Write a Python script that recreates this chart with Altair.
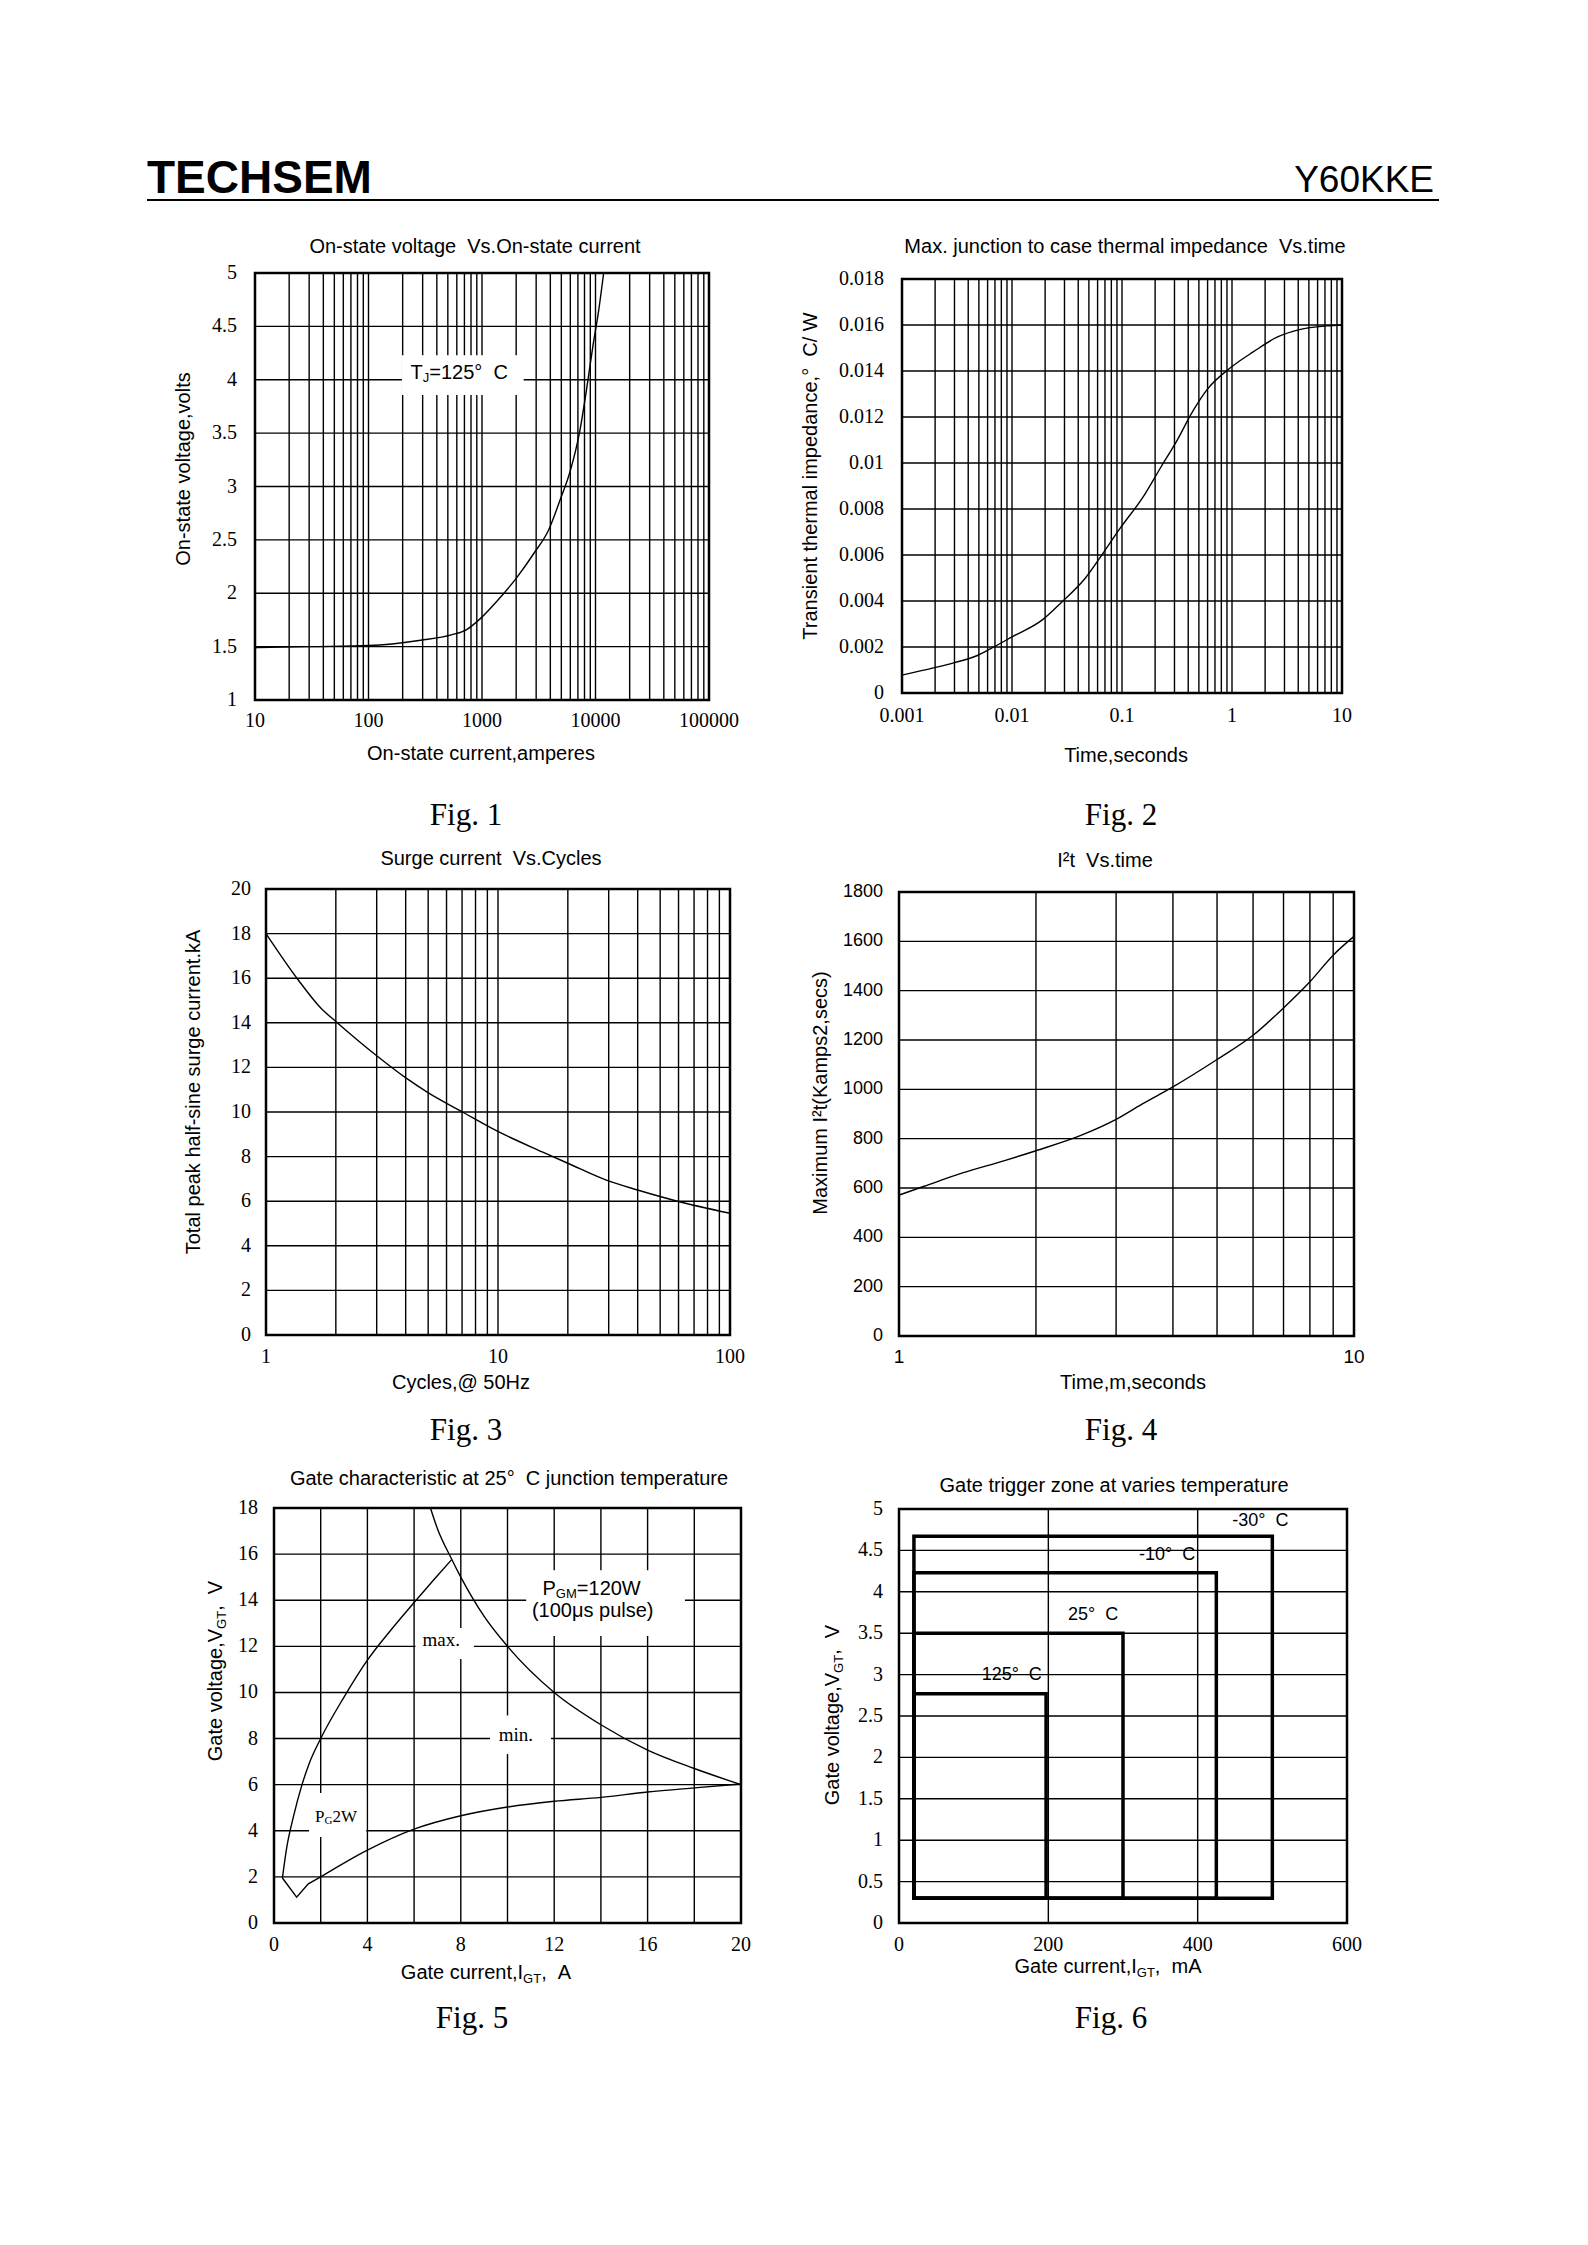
import altair as alt
import pandas as pd

# ---------------- values ----------------
# Fig.1 On-state voltage vs on-state current (Tj=125 C)
f1_current = [10, 30, 101, 288, 537, 733, 961, 1365, 2000, 2850, 3890, 4900, 5970, 7240, 8260, 9500, 10700, 11800]
f1_voltage = [1.49, 1.50, 1.51, 1.56, 1.61, 1.66, 1.76, 1.93, 2.14, 2.37, 2.60, 2.88, 3.14, 3.51, 3.88, 4.32, 4.66, 5.00]
f1_xticks = [10, 100, 1000, 10000, 100000]
f1_yticks = [1, 1.5, 2, 2.5, 3, 3.5, 4, 4.5, 5]

# Fig.2 Transient thermal impedance vs time
f2_time = [0.001, 0.00193, 0.003, 0.00485, 0.0067, 0.01, 0.019, 0.0284, 0.0459, 0.0686, 0.0984,
           0.153, 0.229, 0.315, 0.434, 0.598, 0.968, 1.57, 2.54, 4.1, 7.2, 10]
f2_zth = [0.00078, 0.00109, 0.00132, 0.00163, 0.00198, 0.00244, 0.00319, 0.00396, 0.00497, 0.00614, 0.00723,
          0.00847, 0.00987, 0.01096, 0.0122, 0.01321, 0.01414, 0.01484, 0.01546, 0.0158, 0.01596, 0.0160]
f2_xticks = [0.001, 0.01, 0.1, 1, 10]
f2_yticks = [0, 0.002, 0.004, 0.006, 0.008, 0.01, 0.012, 0.014, 0.016, 0.018]

# Fig.3 Surge current vs cycles
f3_cycles = [1, 1.375, 1.73, 2.01, 3.02, 3.98, 4.99, 7.03, 9.89, 15.6, 20.1, 29.7, 40.3, 58.8, 100]
f3_surge = [18.0, 15.93, 14.64, 14.04, 12.5, 11.55, 10.87, 10.0, 9.15, 8.2, 7.69, 6.92, 6.49, 6.01, 5.46]
f3_xticks = [1, 10, 100]
f3_yticks = [0, 2, 4, 6, 8, 10, 12, 14, 16, 18, 20]

# Fig.4 I2t vs time
f4_time = [1, 1.136, 1.379, 1.706, 2.0, 2.51, 3.0, 3.42, 4.0, 5.0, 6.0, 7.0, 8.0, 9.0, 10.0]
f4_i2t = [571, 607, 661, 711, 751, 813, 878, 940, 1010, 1121, 1219, 1330, 1436, 1544, 1620]
f4_xticks = [1, 10]
f4_yticks = [0, 200, 400, 600, 800, 1000, 1200, 1400, 1600, 1800]

# Fig.5 Gate characteristic
f5_pgm_i = [6.7, 7.0, 7.6, 8.0, 9.0, 10.0, 12.0, 14.0, 16.0, 18.0, 20.0]
f5_pgm_v = [18.0, 17.1, 15.8, 15.0, 13.3, 12.0, 10.0, 8.6, 7.5, 6.7, 6.0]
f5_max_i = [0.36, 0.55, 0.83, 1.2, 1.5, 2.0, 3.0, 4.0, 5.0, 6.0, 6.9, 7.6]
f5_max_v = [1.95, 3.3, 4.6, 6.0, 6.9, 8.0, 9.8, 11.4, 12.7, 13.9, 14.95, 15.75]
f5_knee_i = [0.36, 0.97, 1.47, 2.0]
f5_knee_v = [1.95, 1.12, 1.70, 2.0]
f5_min_i = [2.0, 4.0, 6.0, 8.0, 10.0, 12.0, 14.0, 16.0, 18.0, 20.0]
f5_min_v = [2.0, 3.16, 4.07, 4.65, 5.03, 5.28, 5.45, 5.68, 5.86, 6.03]
f5_xticks = [0, 4, 8, 12, 16, 20]
f5_yticks = [0, 2, 4, 6, 8, 10, 12, 14, 16, 18]

# Fig.6 Gate trigger zones
f6_temp = ["-30°\u00a0 C", "-10°\u00a0 C", "25°\u00a0 C", "125°\u00a0 C"]
f6_igt_hi = [500, 425, 300, 197]
f6_vgt_hi = [4.67, 4.23, 3.50, 2.77]
f6_igt_lo = [20, 20, 20, 20]
f6_vgt_lo = [0.3, 0.3, 0.3, 0.3]
f6_lab_i = [484, 359, 260, 151]
f6_lab_v = [4.85, 4.45, 3.72, 2.99]
f6_xticks = [0, 200, 400, 600]
f6_yticks = [0, 0.5, 1, 1.5, 2, 2.5, 3, 3.5, 4, 4.5, 5]

# grid line positions
f1_xgrid = [k * 10 ** d for d in range(1, 5) for k in range(1, 10)] + [100000]
f2_xgrid = [k * 10.0 ** d for d in range(-3, 1) for k in range(1, 10)] + [10]
f3_xgrid = [k * 10 ** d for d in range(0, 2) for k in range(1, 10)] + [100]
f4_xgrid = [1, 2, 3, 4, 5, 6, 7, 8, 9, 10]
f5_xgrid = [0, 2, 4, 6, 8, 10, 12, 14, 16, 18, 20]
f6_xgrid = [0, 200, 400, 600]

# ---------------- styling / layout ----------------
SANS = "Liberation Sans"
SERIF = "Liberation Serif"
GRID_W = 1.4
FRAME_W = 2.5
FIG_SIZE = 31

AW = {' ': 278, '\u00a0': 278, ',': 278, '.': 278, '-': 333, '(': 333, ')': 333, '/': 278,
      '=': 584, '°': 400, '@': 1015, '²': 333, 'μ': 576}
for ch in '0123456789':
    AW[ch] = 556
AW.update(dict(A=667, B=667, C=722, D=722, E=667, F=611, G=778, H=722, I=278, J=500, K=667, L=556, M=833,
               N=722, O=778, P=667, Q=778, R=722, S=667, T=611, U=722, V=667, W=944, X=667, Y=667, Z=611))
AW.update(dict(a=556, b=556, c=500, d=556, e=556, f=278, g=556, h=556, i=222, j=222, k=500, l=222, m=833,
               n=556, o=556, p=556, q=556, r=333, s=500, t=278, u=556, v=500, w=722, x=500, y=500, z=500))


def tw(s, size):
    return sum(AW.get(c, 556) for c in s) * size / 1000.0


# plot rectangles (page pixels: left, top, right, bottom)
PLOT = {1: (255, 273, 709, 700), 2: (902, 279, 1342, 693), 3: (266, 889, 730, 1335),
        4: (899, 892, 1354, 1336), 5: (274, 1508, 741, 1923), 6: (899, 1509, 1347, 1923)}
# uniform grid cells (the concat aligns every row/column to the same size)
X0, Y0 = 240, 230
CW = 640
RH = 620
CELL = {1: (X0, Y0), 2: (X0 + CW, Y0),
        3: (X0, Y0 + RH), 4: (X0 + CW, Y0 + RH),
        5: (X0, Y0 + 2 * RH), 6: (X0 + CW, Y0 + 2 * RH)}

_one = pd.DataFrame({'k': [0]})


def ptext(n, px, py, s, size=20, font=SANS, align='center', baseline='middle', angle=0, weight='normal'):
    cx, cy = CELL[n]
    kw = dict(text=s, fontSize=size, font=font, align=align, baseline=baseline, color='black', fontWeight=weight)
    if angle:
        kw['angle'] = angle
    return alt.Chart(_one).mark_text(**kw).encode(x=alt.value(px - cx), y=alt.value(py - cy))


def comp_h(n, pcx, pcy, pieces):
    total = sum(tw(t, s) for t, s, _ in pieces)
    x = pcx - total / 2
    base = pcy + 0.36 * pieces[0][1]
    out = []
    for t, s, sh in pieces:
        out.append(ptext(n, x, base + sh, t, size=s, align='left', baseline='alphabetic'))
        x += tw(t, s)
    return out


def comp_v(n, pcx, pcy, pieces):
    total = sum(tw(t, s) for t, s, _ in pieces)
    y = pcy + total / 2
    base = pcx + 0.36 * pieces[0][1]
    out = []
    for t, s, sh in pieces:
        out.append(ptext(n, base + sh, y, t, size=s, align='left', baseline='alphabetic', angle=270))
        y -= tw(t, s)
    return out


def scales(n, xtype, xdom, ydom):
    L, T, R, B = PLOT[n]
    cx, cy = CELL[n]
    xs = alt.Scale(type=xtype, domain=xdom, range=[L - cx, R - cx], nice=False)
    ys = alt.Scale(type='linear', domain=ydom, range=[B - cy, T - cy], nice=False)
    return xs, ys


def grid(xs, ys, xvals, yvals, xdom, ydom):
    dv = pd.DataFrame({'gx': xvals, 'lo': ydom[0], 'hi': ydom[1]})
    dh = pd.DataFrame({'gy': yvals, 'lo': xdom[0], 'hi': xdom[1]})
    v = alt.Chart(dv).mark_rule(color='black', strokeWidth=GRID_W).encode(
        x=alt.X('gx:Q', scale=xs, axis=None), y=alt.Y('lo:Q', scale=ys, axis=None), y2='hi')
    h = alt.Chart(dh).mark_rule(color='black', strokeWidth=GRID_W).encode(
        y=alt.Y('gy:Q', scale=ys, axis=None), x=alt.X('lo:Q', scale=xs, axis=None), x2='hi')
    return [v, h]


def ticklabels(xs, ys, xvals, yvals, xdom, ydom, xpad, ypad, font=SERIF, xsize=20, ysize=20):
    dx_ = pd.DataFrame({'tv': xvals, 'tb': ydom[0]})
    dy_ = pd.DataFrame({'tv': yvals, 'tb': xdom[0]})
    xl = alt.Chart(dx_).mark_text(font=font, fontSize=xsize, align='center', baseline='middle',
                                  dy=xpad, color='black').encode(
        x=alt.X('tv:Q', scale=xs, axis=None), y=alt.Y('tb:Q', scale=ys, axis=None),
        text=alt.Text('tv:Q', format='~g'))
    yl = alt.Chart(dy_).mark_text(font=font, fontSize=ysize, align='right', baseline='middle',
                                  dx=-ypad, color='black').encode(
        y=alt.Y('tv:Q', scale=ys, axis=None), x=alt.X('tb:Q', scale=xs, axis=None),
        text=alt.Text('tv:Q', format='~g'))
    return [xl, yl]


def frame(xs, ys, xdom, ydom):
    d = pd.DataFrame({'fx1': [xdom[0]], 'fx2': [xdom[1]], 'fy1': [ydom[0]], 'fy2': [ydom[1]]})
    return alt.Chart(d).mark_rect(fillOpacity=0, stroke='black', strokeWidth=FRAME_W).encode(
        x=alt.X('fx1:Q', scale=xs, axis=None), x2='fx2', y=alt.Y('fy1:Q', scale=ys, axis=None), y2='fy2')


def wbox(xs, ys, x1, x2, y1, y2):
    d = pd.DataFrame({'bx1': [x1], 'bx2': [x2], 'by1': [y1], 'by2': [y2]})
    return alt.Chart(d).mark_rect(color='white').encode(
        x=alt.X('bx1:Q', scale=xs, axis=None), x2='bx2', y=alt.Y('by1:Q', scale=ys, axis=None), y2='by2')


def ann(xs, ys, x, y, text, size=20, font=SANS, align='center', baseline='middle', dx=0, dy=0):
    d = pd.DataFrame({'ax': [x], 'ay': [y]})
    return alt.Chart(d).mark_text(text=text, fontSize=size, font=font, align=align, baseline=baseline,
                                  dx=dx, dy=dy, color='black').encode(
        x=alt.X('ax:Q', scale=xs, axis=None), y=alt.Y('ay:Q', scale=ys, axis=None))


def curve(xs, ys, xv, yv, interp='monotone', width=1.4):
    d = pd.DataFrame({'cx': xv, 'cy': yv})
    return alt.Chart(d).mark_line(color='black', strokeWidth=width, interpolate=interp).encode(
        x=alt.X('cx:Q', scale=xs, axis=None), y=alt.Y('cy:Q', scale=ys, axis=None))


def panel(layers):
    return alt.layer(*layers).properties(width=CW, height=RH)


# ---------------- Fig.1 ----------------
xd, yd = [10, 100000], [1, 5]
xs, ys = scales(1, 'log', xd, yd)
L1 = grid(xs, ys, f1_xgrid, f1_yticks, xd, yd)
L1.append(wbox(xs, ys, 197, 2330, 3.857, 4.23))
L1.append(curve(xs, ys, f1_current, f1_voltage))
L1.append(frame(xs, ys, xd, yd))
L1 += ticklabels(xs, ys, f1_xticks, f1_yticks, xd, yd, 21, 18)
L1 += [ann(xs, ys, 235, 4.06, 'T', align='left'),
       ann(xs, ys, 235, 4.06, 'J', size=13, align='left', dx=12.2, dy=5),
       ann(xs, ys, 235, 4.06, '=125°\u00a0 C', align='left', dx=18.7)]
L1 += [ptext(1, 475, 247, 'On-state voltage\u00a0 Vs.On-state current'),
       ptext(1, 481, 754, 'On-state current,amperes'),
       ptext(1, 184, 469, 'On-state voltage,volts', angle=270),
       ptext(1, 466, 816, 'Fig. 1', size=FIG_SIZE, font=SERIF)]
# page header
L1 += [ptext(1, 147, 193, 'TECHSEM', size=46, font=SANS, align='left', baseline='alphabetic', weight='bold'),
       ptext(1, 1434, 192, 'Y60KKE', size=37, font=SANS, align='right', baseline='alphabetic'),
       alt.Chart(_one).mark_rule(color='black', strokeWidth=2).encode(
           x=alt.value(147 - X0), x2=alt.value(1439 - X0), y=alt.value(200 - Y0)),
       alt.Chart(_one).mark_rect(color='white').encode(
           x=alt.value(8 - X0), x2=alt.value(9 - X0), y=alt.value(8 - Y0), y2=alt.value(9 - Y0))]
p1 = panel(L1)

# ---------------- Fig.2 ----------------
xd, yd = [0.001, 10], [0, 0.018]
xs, ys = scales(2, 'log', xd, yd)
L2 = grid(xs, ys, f2_xgrid, f2_yticks, xd, yd)
L2.append(curve(xs, ys, f2_time, f2_zth))
L2.append(frame(xs, ys, xd, yd))
L2 += ticklabels(xs, ys, f2_xticks, f2_yticks, xd, yd, 23, 18)
L2 += [ptext(2, 1125, 247, 'Max. junction to case thermal impedance\u00a0 Vs.time'),
       ptext(2, 1126, 756, 'Time,seconds'),
       ptext(2, 811, 476, 'Transient thermal impedance,°\u00a0 C/ W', angle=270),
       ptext(2, 1121, 816, 'Fig. 2', size=FIG_SIZE, font=SERIF)]
p2 = panel(L2)

# ---------------- Fig.3 ----------------
xd, yd = [1, 100], [0, 20]
xs, ys = scales(3, 'log', xd, yd)
L3 = grid(xs, ys, f3_xgrid, f3_yticks, xd, yd)
L3.append(curve(xs, ys, f3_cycles, f3_surge))
L3.append(frame(xs, ys, xd, yd))
L3 += ticklabels(xs, ys, f3_xticks, f3_yticks, xd, yd, 22, 15)
L3 += [ptext(3, 491, 859, 'Surge current\u00a0 Vs.Cycles'),
       ptext(3, 461, 1383, 'Cycles,@ 50Hz'),
       ptext(3, 194, 1092, 'Total peak half-sine surge current.kA', angle=270),
       ptext(3, 466, 1431, 'Fig. 3', size=FIG_SIZE, font=SERIF)]
p3 = panel(L3)

# ---------------- Fig.4 ----------------
xd, yd = [1, 10], [0, 1800]
xs, ys = scales(4, 'log', xd, yd)
L4 = grid(xs, ys, f4_xgrid, f4_yticks, xd, yd)
L4.append(curve(xs, ys, f4_time, f4_i2t))
L4.append(frame(xs, ys, xd, yd))
L4 += ticklabels(xs, ys, f4_xticks, f4_yticks, xd, yd, 21, 16, font=SANS, xsize=19, ysize=18)
L4 += [ptext(4, 1105, 861, 'I²t\u00a0 Vs.time'),
       ptext(4, 1133, 1383, 'Time,m,seconds'),
       ptext(4, 821, 1093, 'Maximum I²t(Kamps2,secs)', angle=270),
       ptext(4, 1121, 1431, 'Fig. 4', size=FIG_SIZE, font=SERIF)]
p4 = panel(L4)

# ---------------- Fig.5 ----------------
xd, yd = [0, 20], [0, 18]
xs, ys = scales(5, 'linear', xd, yd)
L5 = grid(xs, ys, f5_xgrid, f5_yticks, xd, yd)
L5 += [wbox(xs, ys, 10.8, 17.6, 12.45, 15.3), wbox(xs, ys, 6.06, 8.56, 11.45, 12.8),
       wbox(xs, ys, 9.25, 11.86, 7.33, 9.0), wbox(xs, ys, 1.5, 3.95, 3.73, 5.64)]
L5.append(curve(xs, ys, f5_pgm_i, f5_pgm_v))
L5.append(curve(xs, ys, f5_max_i, f5_max_v))
L5.append(curve(xs, ys, f5_knee_i, f5_knee_v, interp='linear'))
L5.append(curve(xs, ys, f5_min_i, f5_min_v))
L5.append(frame(xs, ys, xd, yd))
L5 += ticklabels(xs, ys, f5_xticks, f5_yticks, xd, yd, 22, 16)
L5 += [ann(xs, ys, 11.5, 14.5, 'P', align='left'),
       ann(xs, ys, 11.5, 14.5, 'GM', size=13, align='left', dx=13.3, dy=5),
       ann(xs, ys, 11.5, 14.5, '=120W', align='left', dx=34.3),
       ann(xs, ys, 13.65, 13.53, '(100μs pulse)'),
       ann(xs, ys, 7.16, 12.27, 'max.', size=19, font=SERIF),
       ann(xs, ys, 10.36, 8.16, 'min.', size=19, font=SERIF),
       ann(xs, ys, 1.76, 4.6, 'P', size=17, font=SERIF, align='left'),
       ann(xs, ys, 1.76, 4.6, 'G', size=11, font=SERIF, align='left', dx=9.5, dy=4),
       ann(xs, ys, 1.76, 4.6, '2W', size=17, font=SERIF, align='left', dx=17.4)]
L5 += [ptext(5, 509, 1479, 'Gate characteristic at 25°\u00a0 C junction temperature'),
       ptext(5, 472, 2019, 'Fig. 5', size=FIG_SIZE, font=SERIF)]
L5 += comp_h(5, 486, 1972, [('Gate current,I', 20, 0), ('GT', 13, 4), (',\u00a0\u00a0A', 20, 0)])
L5 += comp_v(5, 215, 1671, [('Gate voltage,V', 20, 0), ('GT', 13, 4), (',\u00a0\u00a0V', 20, 0)])
p5 = panel(L5)

# ---------------- Fig.6 ----------------
xd, yd = [0, 600], [0, 5]
xs, ys = scales(6, 'linear', xd, yd)
L6 = grid(xs, ys, f6_xgrid, f6_yticks, xd, yd)
d6 = pd.DataFrame({'i1': f6_igt_lo, 'i2': f6_igt_hi, 'v1': f6_vgt_lo, 'v2': f6_vgt_hi})
L6.append(alt.Chart(d6).mark_rect(fillOpacity=0, stroke='black', strokeWidth=3.5).encode(
    x=alt.X('i1:Q', scale=xs, axis=None), x2='i2',
    y=alt.Y('v1:Q', scale=ys, axis=None), y2='v2'))
L6.append(frame(xs, ys, xd, yd))
L6 += ticklabels(xs, ys, f6_xticks, f6_yticks, xd, yd, 22, 16)
d6l = pd.DataFrame({'lab': f6_temp, 'li': f6_lab_i, 'lv': f6_lab_v})
L6.append(alt.Chart(d6l).mark_text(fontSize=18, font=SANS, color='black').encode(
    x=alt.X('li:Q', scale=xs, axis=None), y=alt.Y('lv:Q', scale=ys, axis=None), text='lab:N'))
L6 += [ptext(6, 1114, 1486, 'Gate trigger zone at varies temperature'),
       ptext(6, 1111, 2019, 'Fig. 6', size=FIG_SIZE, font=SERIF)]
L6 += comp_h(6, 1108, 1966, [('Gate current,I', 20, 0), ('GT', 13, 4), (',\u00a0\u00a0mA', 20, 0)])
L6 += comp_v(6, 832, 1715, [('Gate voltage,V', 20, 0), ('GT', 13, 4), (',\u00a0\u00a0V', 20, 0)])
p6 = panel(L6)

chart = alt.concat(p1, p2, p3, p4, p5, p6, columns=2, spacing=0, bounds='flush', align='all').properties(
    padding=0, background='white').configure_view(stroke=None)

chart.save("out.html", embed_options={"renderer": "svg", "actions": False})
